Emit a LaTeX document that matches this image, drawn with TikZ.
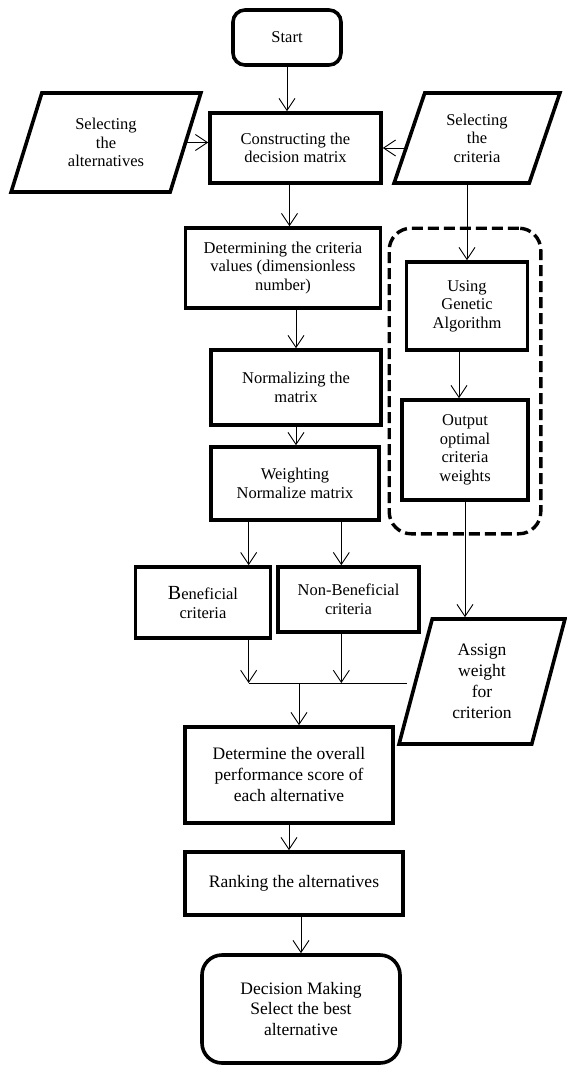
\documentclass[tikz,border=0pt]{standalone}
\usepackage{fontspec}
\setmainfont{Liberation Serif}
\usetikzlibrary{arrows.meta, shapes.geometric, fit, calc}

\begin{document}
\begin{tikzpicture}[x=1pt, y=-1pt,
    >={Straight Barb[length=12pt,width=16pt]},
    box/.style={draw, line width=3.6pt, align=center, inner sep=2pt,
                font=\fontsize{16.5}{18.5}\selectfont},
    big/.style={font=\fontsize{17.5}{21}\selectfont},
    term/.style={box, rounded corners=12pt},
    io/.style={box, trapezium, trapezium left angle=70, trapezium right angle=110,
               trapezium stretches=true},
    arr/.style={->, line width=0.9pt},
    group/.style={draw, dashed, line width=3.4pt, dash pattern=on 11pt off 5pt,
                  rounded corners=22pt}]
    % ================= Canvas =================
    \useasboundingbox (0,0) rectangle (566,1066);

    % ================= Inputs and start =================
    \node[term, minimum width=108pt, minimum height=55pt] (start) at (287,37.5) {Start};
    \node[box, minimum width=171pt, minimum height=70pt] (construct) at (295.5,148)
        {Constructing the\\decision matrix};
    \node[io, minimum width=190pt, minimum height=99pt] (altern) at (106,142.5)
        {Selecting\\the\\alternatives};
    \node[io, minimum width=166pt, minimum height=90pt] (criteria) at (477,138)
        {Selecting\\the\\criteria};

    % ================= Main chain =================
    \node[box, minimum width=195pt, minimum height=80pt] (determ) at (283,268)
        {Determining the criteria\\values (dimensionless\\number)};
    \node[box, minimum width=170pt, minimum height=75pt] (normal) at (296,387.5)
        {Normalizing the\\matrix};
    \node[box, minimum width=168pt, minimum height=73pt] (weight) at (295,483.5)
        {Weighting\\Normalize matrix};
    \node[box, minimum width=135pt, minimum height=71pt] (benef) at (203,602.5)
        {{\fontsize{20}{20}\selectfont B}eneficial\\criteria};
    \node[box, minimum width=141pt, minimum height=65pt] (nonben) at (348.5,599.5)
        {Non-Beneficial\\criteria};

    % ================= Genetic algorithm branch =================
    \node[box, minimum width=121pt, minimum height=88pt] (ga) at (467,306)
        {Using\\Genetic\\Algorithm};
    \node[box, minimum width=126pt, minimum height=100pt] (output) at (465,450)
        {Output\\optimal\\criteria\\weights};
    \node[group, fit=(ga)(output), inner xsep=11pt, inner ysep=32pt] (gabox) {};
    \node[io, big, trapezium left angle=75, trapezium right angle=105,
          minimum width=166pt, minimum height=125pt] (assign) at (482,681.5)
        {Assign\\weight\\for\\criterion};

    % ================= Final steps =================
    \node[box, big, minimum width=208pt, minimum height=96pt] (overall) at (289,775)
        {Determine the overall\\performance score of\\each alternative};
    \node[box, big, minimum width=218pt, minimum height=63pt] (rank) at (294,883.5)
        {Ranking the alternatives};
    \node[term, big, rounded corners=20pt, minimum width=198pt, minimum height=108pt]
        (decision) at (301,1009) {Decision Making\\Select the best\\alternative};

    % ================= Connectors =================
    \draw[arr] (start) -- (start |- construct.north);
    \draw[arr] (altern.east) -- (altern.east -| construct.west);
    \draw[arr] (criteria.west |- construct.east) -- (construct.east);
    \draw[arr] ([xshift=-6pt]construct.south) -- ([xshift=-6pt]construct.south |- determ.north);
    \draw[arr] (normal.north |- determ.south) -- (normal.north);
    \draw[arr] (normal) -- (normal |- weight.north);

    \coordinate (wl) at ($(weight.south west)!0.23!(weight.south east)$);
    \coordinate (wr) at ($(weight.south west)!0.77!(weight.south east)$);
    \draw[arr] (wl) -- (wl |- benef.north);
    \draw[arr] (wr) -- (wr |- nonben.north);

    % merging the two criteria types
    \coordinate (merge) at (299,683);
    \coordinate (mergeend) at (407,683);
    \draw[arr] (benef.south -| wl) -- (wl |- merge);
    \draw[arr] (nonben.south -| wr) -- (wr |- merge);
    \draw[line width=0.9pt] (wl |- merge) -- (mergeend);
    \draw[arr] (merge) -- (merge |- overall.north);

    \draw[arr] (overall) -- (overall |- rank.north);
    \draw[arr] (decision.north |- rank.south) -- (decision.north);

    % weights branch
    \draw[arr] (ga.north |- criteria.south) -- (ga.north);
    \draw[arr] ([xshift=-8pt]ga.south) -- ([xshift=-8pt]ga.south |- output.north);
    \draw[arr] (output) -- (output |- assign.north);
\end{tikzpicture}
\end{document}
